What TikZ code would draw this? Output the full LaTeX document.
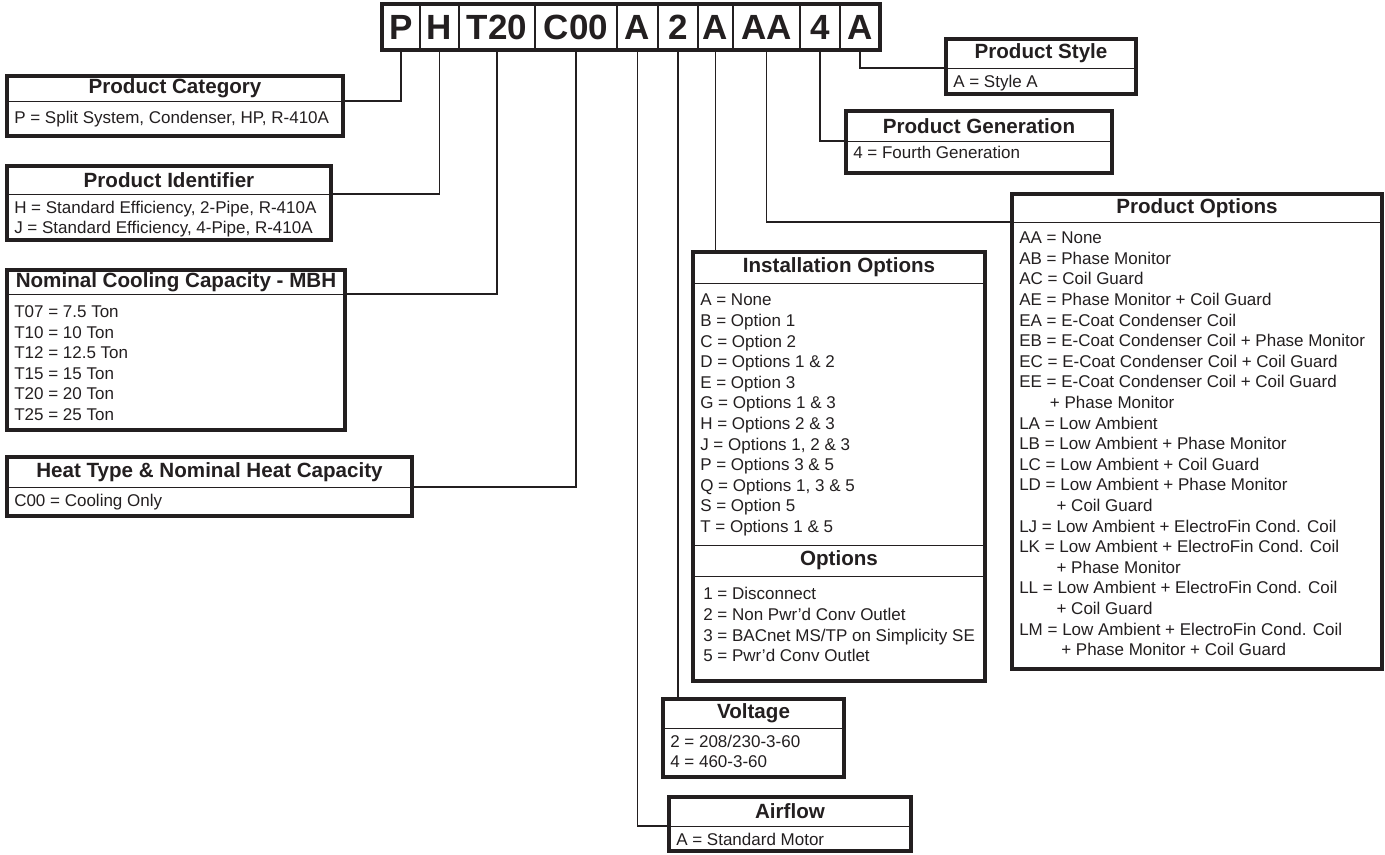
\documentclass[tikz,border=0pt]{standalone}
\usepackage{fontspec}
\setmainfont{Liberation Sans}
\usetikzlibrary{positioning}
\definecolor{ink}{HTML}{231F20}
\tikzset{
  cell/.style={draw=ink, line width=0.8pt, minimum height=34.5pt, inner sep=0pt, outer sep=0pt,
    text=ink, font=\bfseries\fontsize{26.25}{30}\selectfont},
  hdr/.style={draw=ink, line width=0.7pt, anchor=north west, inner sep=0pt, outer sep=0pt,
    text=ink, font=\bfseries\fontsize{15.45}{18}\selectfont},
  bdy/.style={anchor=north west, align=left, inner xsep=5.25pt, inner ysep=5pt,
    text=ink, font=\fontsize{12.75}{15.45}\selectfont},
  frame/.style={draw=ink, line width=2.5pt},
  wire/.style={draw=ink, line width=1pt}
}
\begin{document}
\begin{tikzpicture}[x=0.75pt, y=-0.75pt]
\useasboundingbox (0,0) rectangle (1385,854);
\fill[white] (0,0) rectangle (1385,854);

% model number
\node[cell, minimum width=28.5pt, anchor=north west] (cP) at (382,4) {P};
\node[cell, minimum width=29.25pt, right=0pt of cP] (cH) {H};
\node[cell, minimum width=57pt, right=0pt of cH] (cT) {T20};
\node[cell, minimum width=61.5pt, right=0pt of cT] (cC) {C00};
\node[cell, minimum width=30.75pt, right=0pt of cC] (cAir) {A};
\node[cell, minimum width=30pt, right=0pt of cAir] (cVolt) {2};
\node[cell, minimum width=26.25pt, right=0pt of cVolt] (cInst) {A};
\node[cell, minimum width=50.25pt, right=0pt of cInst] (cOpt) {AA};
\node[cell, minimum width=30pt, right=0pt of cOpt] (cGen) {4};
\node[cell, minimum width=30pt, right=0pt of cGen] (cStyle) {A};
\draw[frame] (cP.north west) rectangle (cStyle.south east);

% left column
\node[hdr, minimum width=252pt, minimum height=18.75pt] (cat) at (7,76) {Product Category};
\node[bdy, inner ysep=7.5pt] (cat-t) at (cat.south west) {P = Split System, Condenser, HP, R-410A};
\draw[frame] (cat.north west) rectangle (cat.east |- 0,136);

\node[hdr, minimum width=243pt, minimum height=21pt] (ident) at (7,166) {Product Identifier};
\node[bdy] (ident-t) at (ident.south west) {H = Standard Efficiency, 2-Pipe, R-410A\\
  J = Standard Efficiency, 4-Pipe, R-410A};
\draw[frame] (ident.north west) rectangle (ident.east |- 0,240);

\node[hdr, minimum width=253.5pt, minimum height=18pt] (cool) at (7,270) {Nominal Cooling Capacity - MBH};
\node[bdy, inner ysep=8.5pt] (cool-t) at (cool.south west) {T07 = 7.5 Ton\\ T10 = 10 Ton\\ T12 = 12.5 Ton\\
  T15 = 15 Ton\\ T20 = 20 Ton\\ T25 = 25 Ton};
\draw[frame] (cool.north west) rectangle (cool.east |- 0,430);

\node[hdr, minimum width=303.75pt, minimum height=22.5pt] (heat) at (7,457) {Heat Type \& Nominal Heat Capacity};
\node[bdy] (heat-t) at (heat.south west) {C00 = Cooling Only};
\draw[frame] (heat.north west) rectangle (heat.east |- 0,516);

% right side
\node[hdr, minimum width=142.5pt, minimum height=21.75pt] (style) at (946,39) {Product Style};
\node[bdy] (style-t) at (style.south west) {A = Style A};
\draw[frame] (style.north west) rectangle (style.east |- 0,94);

\node[hdr, minimum width=199.5pt, minimum height=22.5pt] (gen) at (846,111) {Product Generation};
\node[bdy, inner ysep=3.75pt] (gen-t) at (gen.south west) {4 = Fourth Generation};
\draw[frame] (gen.north west) rectangle (gen.east |- 0,173);

\node[hdr, minimum width=277.5pt, minimum height=21pt] (opts) at (1012,194) {Product Options};
\node[bdy, inner ysep=7.25pt] (opts-t) at (opts.south west) {AA = None\\ AB = Phase Monitor\\ AC = Coil Guard\\
  AE = Phase Monitor + Coil Guard\\ EA = E-Coat Condenser Coil\\
  EB = E-Coat Condenser Coil + Phase Monitor\\ EC = E-Coat Condenser Coil + Coil Guard\\
  EE = E-Coat Condenser Coil + Coil Guard\\ \hspace*{23pt}+ Phase Monitor\\
  LA = Low Ambient\\ LB = Low Ambient + Phase Monitor\\ LC = Low Ambient + Coil Guard\\
  LD = Low Ambient + Phase Monitor\\ \hspace*{28pt}+ Coil Guard\\
  LJ = Low Ambient + ElectroFin Cond. Coil\\
  LK = Low Ambient + ElectroFin Cond. Coil\\ \hspace*{28pt}+ Phase Monitor\\
  LL = Low Ambient + ElectroFin Cond. Coil\\ \hspace*{28pt}+ Coil Guard\\
  LM = Low Ambient + ElectroFin Cond. Coil\\ \hspace*{31.5pt}+ Phase Monitor + Coil Guard};
\draw[frame] (opts.north west) rectangle (opts.east |- 0,669);

% middle
\node[hdr, minimum width=219pt, minimum height=23.25pt] (inst) at (693,252) {Installation Options};
\node[bdy, inner ysep=8.25pt] (inst-t) at (inst.south west) {A = None\\ B = Option 1\\ C = Option 2\\
  D = Options 1 \& 2\\ E = Option 3\\ G = Options 1 \& 3\\ H = Options 2 \& 3\\
  J = Options 1, 2 \& 3\\ P = Options 3 \& 5\\ Q = Options 1, 3 \& 5\\
  S = Option 5\\ T = Options 1 \& 5};
\node[hdr, minimum width=219pt, minimum height=23.25pt] (instopt) at (693,545) {Options};
\node[bdy, inner xsep=7.5pt, inner ysep=8.5pt] (instopt-t) at (instopt.south west) {1 = Disconnect\\
  2 = Non Pwr'd Conv Outlet\\ 3 = BACnet MS/TP on Simplicity SE\\ 5 = Pwr'd Conv Outlet};
\draw[frame] (inst.north west) rectangle (inst.east |- 0,681);

\node[hdr, minimum width=135.75pt, minimum height=21.75pt] (volt) at (663,699) {Voltage};
\node[bdy] (volt-t) at (volt.south west) {2 = 208/230-3-60\\ 4 = 460-3-60};
\draw[frame] (volt.north west) rectangle (volt.east |- 0,777);

\node[hdr, minimum width=181.5pt, minimum height=21.75pt] (air) at (669,797) {Airflow};
\node[bdy] (air-t) at (air.south west) {A = Standard Motor};
\draw[frame] (air.north west) rectangle (air.east |- 0,851);

% leader lines
\draw[wire] (cP.south) |- (cat.south east);
\draw[wire] (cH.south) |- (ident.south east);
\draw[wire] (cT.south) |- (cool.south east);
\draw[wire] (cC.south) |- (heat.south east);
\draw[wire] (cAir.south) |- (air.south west);
\draw[wire] (cVolt.south) -- (cVolt.south |- volt.north);
\draw[wire] (cInst.south) -- (cInst.south |- inst.north);
\draw[wire] (cOpt.south) |- (opts.south west);
\draw[wire] (cGen.south) |- (gen.south west);
\draw[wire] (cStyle.south) |- (style.south west);
\end{tikzpicture}
\end{document}
